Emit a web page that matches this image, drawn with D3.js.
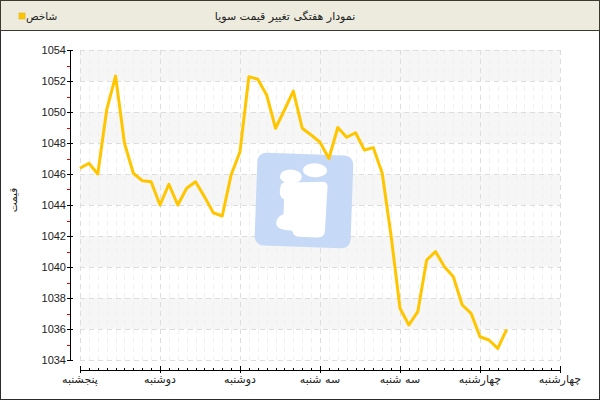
<!DOCTYPE html>
<html><head><meta charset="utf-8">
<script src="https://cdn.jsdelivr.net/npm/d3@7"></script>
<style>body{margin:0;background:#fff}svg{display:block;font-family:"Liberation Sans","DejaVu Sans",sans-serif}</style>
</head><body>
<script>
const title = "نمودار هفتگی تغییر قیمت سویا";
const seriesName = "شاخص";
const yTitle = "قیمت";
const xTickLabels = ["پنجشنبه","دوشنبه","دوشنبه","سه شنبه","سه شنبه","چهارشنبه","چهارشنبه"];
const yTicks = [1034,1036,1038,1040,1042,1044,1046,1048,1050,1052,1054];
const values = [1046.37,1046.69,1046.0,1050.13,1052.32,1048.0,1046.05,1045.57,1045.5,1044.0,
  1045.34,1044.0,1045.08,1045.5,1044.54,1043.5,1043.29,1045.94,1047.44,1052.28,
  1052.11,1051.1,1048.95,1050.13,1051.35,1048.95,1048.52,1048.05,1047.0,1049.0,
  1048.37,1048.66,1047.55,1047.7,1046.05,1042.0,1037.34,1036.26,1037.12,1040.45,
  1040.99,1040.02,1039.37,1037.55,1037.01,1035.5,1035.29,1034.75,1035.98];
const pointsPerTick = 9;

const W=600,H=400;
const svg=d3.select("body").append("svg").attr("width",W).attr("height",H);
svg.append("rect").attr("x",0.5).attr("y",0.5).attr("width",W-1).attr("height",H-1).attr("fill","#fff").attr("stroke","#2b2b2b");
svg.append("rect").attr("x",0.5).attr("y",0.5).attr("width",W-1).attr("height",30).attr("fill","#ecebdd").attr("stroke","#3a3a30");
svg.append("text").attr("x",285).attr("y",20).attr("text-anchor","middle").attr("font-size",11).attr("font-family","DejaVu Sans").attr("fill","#222").text(title);
svg.append("rect").attr("x",19).attr("y",13).attr("width",6).attr("height",6).attr("fill","#ffc600").attr("stroke","#e0a800").attr("stroke-width",0.5);
svg.append("text").attr("x",26).attr("y",20).attr("text-anchor","start").attr("font-size",10.5).attr("font-family","DejaVu Sans").attr("fill","#222").text(seriesName);

const L=80,R=560,T=50,B=360;
const nTicks = xTickLabels.length;
const x=d3.scaleLinear().domain([0,(nTicks-1)*pointsPerTick]).range([L,R]);
const y=d3.scaleLinear().domain([1034,1054]).range([B,T]);

// bands
const g=svg.append("g");
for(let v=1052; v>=1034; v-=4){
  g.append("rect").attr("x",L).attr("width",R-L).attr("y",y(v+2)).attr("height",y(v)-y(v+2)).attr("fill","#f6f6f6");
}
const minor=d3.range(0,(nTicks-1)*pointsPerTick+1);
g.selectAll(".mv").data(minor.filter(i=>i%pointsPerTick)).enter().append("line")
 .attr("x1",d=>Math.round(x(d))+0.5).attr("x2",d=>Math.round(x(d))+0.5).attr("y1",T).attr("y2",B)
 .attr("stroke","#f0f0f0").attr("stroke-dasharray","5,4");
g.selectAll(".Mv").data(minor.filter(i=>i%pointsPerTick===0)).enter().append("line")
 .attr("x1",d=>Math.round(x(d))+0.5).attr("x2",d=>Math.round(x(d))+0.5).attr("y1",T).attr("y2",B)
 .attr("stroke","#dddddd").attr("stroke-dasharray","5,4");
g.selectAll(".Mh").data(yTicks).enter().append("line")
 .attr("y1",d=>Math.round(y(d))+0.5).attr("y2",d=>Math.round(y(d))+0.5).attr("x1",L).attr("x2",R)
 .attr("stroke","#dddddd").attr("stroke-dasharray","5,4");

// logo
const lg=svg.append("g").attr("transform","translate(304,200) rotate(2)");
lg.append("rect").attr("x",-48).attr("y",-46).attr("width",96).attr("height",93).attr("rx",9).attr("fill","#c3d7f5").attr("opacity",0.95);
lg.append("ellipse").attr("cx",-14).attr("cy",-23).attr("rx",11).attr("ry",7).attr("fill","#fff");
lg.append("ellipse").attr("cx",10).attr("cy",-30).attr("rx",12).attr("ry",7).attr("fill","#fff");
lg.append("path").attr("d","M-24,-12 Q-24,-18 -16,-17 L18,-19 Q24,-19 23,-12 L22,30 Q22,37 14,37 L-4,37 Q-10,36 -10,32 L-12,31 Q-27,31 -27,24 Q-27,18 -20,15 L-20,0 Q-26,-2 -24,-12 Z").attr("fill","#fff");

// line
svg.append("path").datum(values).attr("fill","none").attr("stroke","#ffc600").attr("stroke-width",3).attr("stroke-linejoin","round")
 .attr("d",d3.line().x((d,i)=>x(i)).y(d=>y(d)));

// y axis
const ax=70;
svg.append("line").attr("x1",ax+0.5).attr("x2",ax+0.5).attr("y1",T).attr("y2",B).attr("stroke","#000");
const yMinor=d3.range(1035,1054,2);
svg.selectAll(".ym").data(yMinor).enter().append("line").attr("x1",ax-3).attr("x2",ax).attr("y1",d=>Math.round(y(d))+0.5).attr("y2",d=>Math.round(y(d))+0.5).attr("stroke","#e00");
svg.selectAll(".yM").data(yTicks).enter().append("line").attr("x1",ax-3).attr("x2",ax+3).attr("y1",d=>Math.round(y(d))+0.5).attr("y2",d=>Math.round(y(d))+0.5).attr("stroke","#000");
svg.selectAll(".yl").data(yTicks).enter().append("text").attr("x",ax-4).attr("y",d=>y(d)+4).attr("text-anchor","end").attr("font-size",11).attr("fill","#222").text(d=>d);
svg.append("text").attr("transform","translate(17,200) rotate(-90)").attr("text-anchor","middle").attr("font-size",10.5).attr("font-family","DejaVu Sans").attr("fill","#222").text(yTitle);

// x axis
const ay=370;
svg.append("line").attr("x1",L).attr("x2",R+1).attr("y1",ay+0.5).attr("y2",ay+0.5).attr("stroke","#000");
svg.selectAll(".xm").data(minor.filter(i=>i%pointsPerTick)).enter().append("line").attr("x1",d=>Math.round(x(d))+0.5).attr("x2",d=>Math.round(x(d))+0.5).attr("y1",ay-2).attr("y2",ay).attr("stroke","#000");
svg.selectAll(".xM").data(d3.range(nTicks)).enter().append("line").attr("x1",d=>Math.round(x(d*pointsPerTick))+0.5).attr("x2",d=>Math.round(x(d*pointsPerTick))+0.5).attr("y1",ay-4).attr("y2",ay+3).attr("stroke","#000");
svg.selectAll(".xl").data(xTickLabels).enter().append("text").attr("x",(d,i)=>x(i*pointsPerTick)).attr("y",ay+13).attr("text-anchor","middle").attr("font-size",11).attr("font-family","DejaVu Sans").attr("fill","#222").text(d=>d);
</script>
</body></html>
